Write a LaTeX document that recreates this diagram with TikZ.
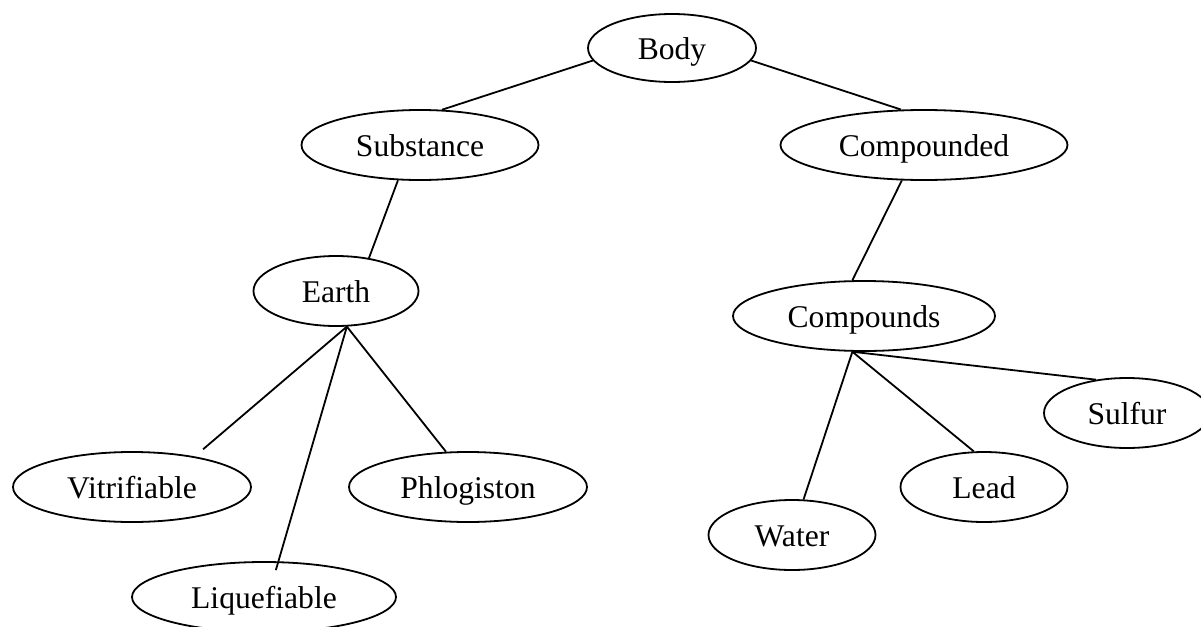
\documentclass[tikz,border=0pt]{standalone}
\usepackage{fontspec}
\setmainfont{Liberation Serif}
\usetikzlibrary{shapes.geometric}

\tikzset{bulle/.style = {ellipse, draw, inner sep=0pt,
                         minimum height=35pt, minimum width=#1,
                         text height=11.8pt, text depth=0pt,
                         font=\fontsize{15.8}{18}\selectfont},
         bulle/.default=84pt
        }

\begin{document}
\begin{tikzpicture}[x=0.5pt,y=-0.5pt,line width=0.9pt]
\useasboundingbox (0,0) rectangle (1201,627);
\tikzstyle{every node}=[bulle]
\node[minimum height=34pt] at (672,48) (body) {Body};
\node[bulle=118.5pt] at (420,145) (subst) {Substance};
\node[bulle=143.5pt] at (924,145) (cpd) {Compounded};
\node[bulle=82.5pt] at (336,291) (earth) {Earth};
\node[bulle=131pt] at (864,316) (cps) {Compounds};
\node[bulle=119pt] at (132,487) (vitr) {Vitrifiable};
\node[bulle=119pt] at (468,487) (phlo) {Phlogiston};
\node[bulle=132pt] at (264,597) (liq) {Liquefiable};
\node[bulle=83.5pt] at (792,535) (water) {Water};
\node[bulle=83.5pt] at (984,487) (lead) {Lead};
\node[bulle=83pt] at (1127,413) (sulf) {Sulfur};
\draw (body.189) -- (subst.58);
\draw (body.351) -- (cpd.123);
\draw (subst.238) -- (earth.45);
\draw (cpd.238) -- (cps.108);
\draw[shorten >=5.5pt] (earth.287) -- (vitr.26);
\draw[shorten >=-4.6pt] (earth.287) -- (liq.68);
\draw (earth.287) -- (phlo.122);
\draw (cps.252) -- (water.72);
\draw (cps.252) -- (lead.106);
\draw (cps.252) -- (sulf.133);
\end{tikzpicture}
\end{document}
